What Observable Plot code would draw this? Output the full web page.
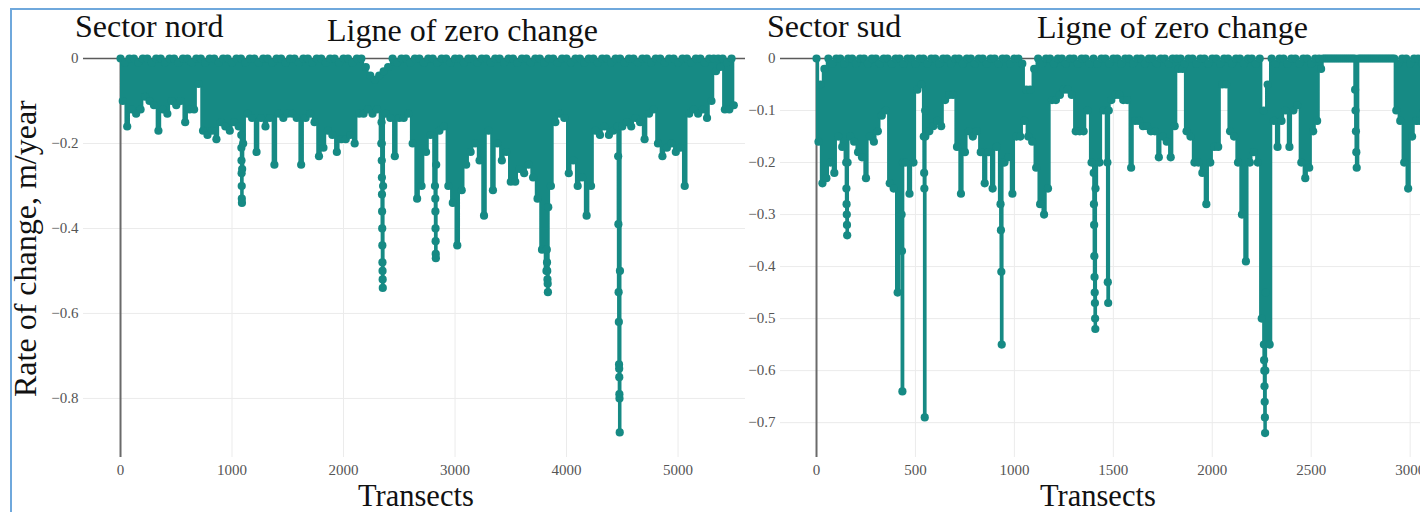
<!DOCTYPE html>
<html>
<head>
<meta charset="utf-8">
<script src="https://cdn.jsdelivr.net/npm/d3@7"></script>
<script src="https://cdn.jsdelivr.net/npm/@observablehq/plot@0.6"></script>
<style>
  html, body { margin: 0; padding: 0; background: #fff; }
  body { width: 1420px; height: 512px; overflow: hidden; position: relative; }
  #frame { position: absolute; left: 10px; top: 8px; width: 1440px; height: 540px; border: 2px solid #6fa8dc; box-sizing: border-box; }
  #left { position: absolute; left: 0; top: 0; }
  #right { position: absolute; left: 700px; top: 0; }
  #labels { position: absolute; left: 0; top: 0; }
  #labels text { font-family: "Liberation Serif", "Times New Roman", serif; font-size: 32px; fill: #111; }
  #labels text.xl { font-size: 30.5px; }
</style>
</head>
<body>
<div id="frame"></div>
<div id="left"></div>
<div id="right"></div>
<svg id="labels" width="1420" height="512">
  <text x="75" y="37">Sector nord</text>
  <text x="327" y="41">Ligne of zero change</text>
  <text x="767" y="37">Sector sud</text>
  <text x="1037" y="38">Ligne of zero change</text>
  <text transform="translate(36,397) rotate(-90)">Rate of change, m/year</text>
  <text class="xl" x="358" y="506">Transects</text>
  <text class="xl" x="1040" y="506">Transects</text>
</svg>
<script>
// ---- Sector nord: rate of change (m/year), one value every 20 transects ----
const nordStep = 20;
const nordRate = [
  0,-.10, -.01,-.16, 0,-.12, 0,-.13, -.01,-.12, 0,-.09, 0,-.10, -.01,-.11, 0,-.17, 0,-.12,
  -.01,-.13, 0,-.10, 0,-.11, -.01,-.10, 0,-.15, 0,-.12, -.01,-.12, 0,-.06, 0,-.17, -.01,-.18,
  0,-.17, 0,-.19, -.01,-.15, 0,-.16, 0,-.17, -.01,-.15, 0,-.16, 0,-.20, -.01,-.13, 0,-.14,
  0,-.22, -.01,-.14, 0,-.16, 0,-.14, -.01,-.25, 0,-.13, 0,-.14, -.01,-.13, 0,-.13, 0,-.14,
  -.01,-.25, 0,-.14, 0,-.13, -.01,-.15, 0,-.23, 0,-.21, -.01,-.17, 0,-.18, 0,-.22, -.01,-.19,
  0,-.19, 0,-.18, -.01,-.20, 0,-.13, 0,-.13, -.02,-.12, -.04,-.13, -.05,-.12, -.04,-.20, -.03,-.13,
  -.02,-.14, 0,-.23, -.01,-.14, 0,-.14, 0,-.13, -.01,-.20, 0,-.33, 0,-.30, -.01,-.22, 0,-.18,
  0,-.30, -.01,-.17, 0,-.16, 0,-.30, -.01,-.34, 0,-.44, 0,-.31, -.01,-.25, 0,-.22, 0,-.20,
  -.01,-.24, 0,-.37, 0,-.17, -.01,-.31, 0,-.20, 0,-.24, -.01,-.22, 0,-.29, 0,-.29, -.01,-.26,
  0,-.27, 0,-.25, -.01,-.28, 0,-.33, 0,-.45, -.01,-.50, 0,-.30, 0,-.15, -.01,-.13, 0,-.14,
  0,-.27, -.01,-.24, 0,-.30, 0,-.28, -.01,-.37, 0,-.30, 0,-.17, -.01,-.18, 0,-.16, 0,-.18,
  -.01,-.17, 0,-.16, 0,-.16, -.01,-.15, 0,-.16, 0,-.14, -.01,-.15, 0,-.19, 0,-.13, -.01,-.12,
  0,-.20, 0,-.23, -.01,-.21, 0,-.20, 0,-.22, -.01,-.21, 0,-.30, 0,-.13, -.01,-.12, 0,-.13,
  0,-.12, -.01,-.14, 0,-.10, 0,-.03, 0,-.02, 0,-.12, -.01,-.12, 0,-.11
];
// deep single-transect drops (sector nord)
const nordSpikeTransect = [1083,1084,1085,1086,1087,1088,1089,1091,
  2341,2342,2343,2344,2345,2346,2347,2348,2349,2350,2351,2352,2355,
  2823,2824,2825,2826,2827,2828,2831,
  3823,3825,3827,3829,3831,3833,3836,
  4463,4465,4467,4469,4471,4472,4473,4474,4475,4477,4479];
const nordSpikeRate = [-.18,-.21,-.24,-.27,-.30,-.33,-.34,-.26,
  -.15,-.20,-.24,-.28,-.32,-.36,-.40,-.44,-.48,-.50,-.52,-.54,-.30,
  -.33,-.36,-.40,-.43,-.46,-.47,-.25,
  -.45,-.48,-.50,-.52,-.53,-.55,-.35,
  -.23,-.39,-.55,-.62,-.72,-.73,-.75,-.79,-.80,-.88,-.50];

// ---- Sector sud: rate of change (m/year), one value every 10 transects ----
const sudStep = 10;
const sudRate = [
  0,-.16, -.05,-.24, -.02,-.23, 0,-.20, -.01,-.22, 0,-.15, 0,-.17, -.01,-.20, 0,-.15, 0,-.16,
  -.01,-.18, 0,-.19, 0,-.23, -.01,-.15, 0,-.16, 0,-.14, -.01,-.11, 0,-.10, 0,-.24, -.01,-.25,
  0,-.45, 0,-.30, -.01,-.20, 0,-.26, 0,-.20, -.01,-.06, 0,-.05, 0,-.15, -.01,-.14, 0,-.13,
  0,-.12, -.01,-.13, 0,-.08, 0,-.07, -.01,-.07, 0,-.17, 0,-.26, -.01,-.18, 0,-.14, 0,-.15,
  -.01,-.14, 0,-.18, 0,-.24, -.01,-.18, 0,-.25, 0,-.17, -.01,-.28, 0,-.20, 0,-.19, -.01,-.26,
  0,-.15, 0,-.15, -.01,-.12, -.06,-.15, -.06,-.16, -.02,-.21, 0,-.28, -.01,-.30, 0,-.25, 0,-.08,
  -.01,-.08, 0,-.07, 0,-.06, -.01,-.06, 0,-.07, 0,-.14, -.01,-.14, 0,-.14, 0,-.10, -.01,-.20,
  0,-.25, -.01,-.20, 0,-.10, 0,-.20, -.01,-.08, 0,-.07, 0,-.07, -.01,-.08, 0,-.08, 0,-.21,
  -.01,-.12, 0,-.12, 0,-.13, -.01,-.13, 0,-.14, 0,-.14, -.01,-.19, 0,-.15, 0,-.16, -.01,-.19,
  0,-.13, 0,-.02, 0,-.02, -.01,-.14, 0,-.15, 0,-.20, -.01,-.20, 0,-.22, 0,-.28, -.01,-.20,
  0,-.17, 0,-.17, -.01,-.05, 0,-.05, 0,-.14, -.01,-.15, 0,-.20, 0,-.30, -.01,-.39, 0,-.20,
  0,-.18, -.01,-.20, 0,-.50, -.10,-.45, -.05,-.55, 0,-.12, -.01,-.17, 0,-.12, 0,-.10, -.01,-.17,
  0,-.10, 0,-.09, -.01,-.20, 0,-.23, 0,-.21, -.01,-.14, 0,-.12, 0,-.02, 0,0, 0,0,
  0,0, 0,0, 0,0, 0,0, 0,0, 0,0, 0,-.21, 0,0, 0,0, 0,0,
  0,0, 0,0, 0,0, 0,0, 0,0, 0,0, 0,-.10, -.01,-.12, 0,-.20, 0,-.25,
  -.01,-.15, 0,-.12, 0,-.12, -.01,-.10, 0,-.12, 0,-.10
];
const sudSpikeTransect = [151,152,153,154,155,157, 432,434,437, 542,544,545,547,549,
  932,934,936,938, 1401,1402,1403,1404,1405,1406,1407,1408,1409, 1472,1474,1477,
  2261,2262,2263,2264,2265,2266,2267,2268, 2722,2724,2726,2728];
const sudSpikeRate = [-.25,-.28,-.30,-.32,-.34,-.20, -.37,-.64,-.20, -.15,-.22,-.25,-.69,-.10,
  -.33,-.41,-.55,-.20, -.22,-.28,-.32,-.38,-.42,-.45,-.47,-.50,-.52, -.43,-.47,-.10,
  -.55,-.58,-.60,-.63,-.66,-.69,-.72,-.60, -.06,-.10,-.14,-.18];

// ---- axes ----
const nordXTicks = [0, 1000, 2000, 3000, 4000, 5000];
const nordYTicks = [0, -0.2, -0.4, -0.6, -0.8];
const sudXTicks = [0, 500, 1000, 1500, 2000, 2500, 3000];
const sudYTicks = [0, -0.1, -0.2, -0.3, -0.4, -0.5, -0.6, -0.7];

const TEAL = "#168a84";

function series(rate, step, spikeT, spikeV) {
  const a = rate.map((v, i) => ({t: i * step, v}));
  const b = spikeT.map((t, j) => ({t, v: spikeV[j]}));
  return a.concat(b).sort((p, q) => p.t - q.t);
}

function panel({data, width, marginLeft, marginRight, xDomain, yDomain, xTicks, yTicks}) {
  return Plot.plot({
    width, height: 512,
    marginTop: 58, marginBottom: 55, marginLeft, marginRight,
    style: {background: "transparent", maxWidth: "none", overflow: "visible",
            fontFamily: "'Liberation Serif', 'Times New Roman', serif", fontSize: "15px", color: "#555"},
    x: {domain: xDomain, label: null},
    y: {domain: yDomain, label: null},
    marks: [
      Plot.gridX(xTicks.filter(d => d !== 0), {stroke: "#ebebeb", strokeOpacity: 1, strokeWidth: 1}),
      Plot.gridY(yTicks.filter(d => d !== 0), {stroke: "#ebebeb", strokeOpacity: 1, strokeWidth: 1}),
      Plot.ruleY([0], {stroke: "#5a5a5a", strokeWidth: 1.5}),
      Plot.ruleX([0], {stroke: "#6a6a6a", strokeWidth: 2}),
      Plot.axisX(xTicks, {tickSize: 0, tickPadding: 7, tickFormat: d3.format("d"), label: null, fontSize: 15}),
      Plot.axisY(yTicks, {tickSize: 0, tickPadding: 5, tickFormat: d3.format("~g"), label: null, fontSize: 15}),
      Plot.line(data, {x: "t", y: "v", curve: "step", stroke: TEAL, strokeWidth: 3.3, strokeLinejoin: "round"}),
      Plot.dot(data, {x: "t", y: "v", r: 4.1, fill: TEAL})
    ]
  });
}

document.getElementById("left").append(panel({
  data: series(nordRate, nordStep, nordSpikeTransect, nordSpikeRate),
  width: 750, marginLeft: 83, marginRight: 5,
  xDomain: [-332, 5605], yDomain: [-0.939, 0],
  xTicks: nordXTicks, yTicks: nordYTicks
}));

document.getElementById("right").append(panel({
  data: series(sudRate, sudStep, sudSpikeTransect, sudSpikeRate),
  width: 800, marginLeft: 80, marginRight: 31,
  xDomain: [-182, 3300], yDomain: [-0.767, 0],
  xTicks: sudXTicks, yTicks: sudYTicks
}));
</script>
</body>
</html>
